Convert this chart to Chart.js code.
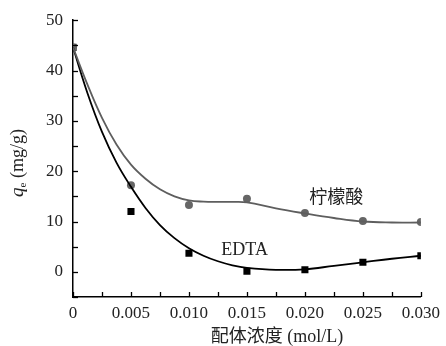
<!DOCTYPE html>
<html>
<head>
<meta charset="utf-8">
<script src="https://cdn.jsdelivr.net/npm/chart.js@4/dist/chart.umd.min.js"></script>
<style>
  html, body { margin: 0; padding: 0; background: #fff; }
  #wrap { width: 446px; height: 346px; }
</style>
</head>
<body>
<div id="wrap"><canvas id="chart"></canvas></div>
<script>
// measured points
const conc = [0, 0.005, 0.010, 0.015, 0.020, 0.025, 0.030];
const citricQ = [44.6, 17.2, 13.3, 14.5, 11.7, 10.1, 9.9];
const edtaQ = [44.6, 12.0, 3.7, 0.1, 0.4, 1.9, 3.2];

// fitted curves
const fitConc = [0, 0.00125, 0.0025, 0.00375, 0.005, 0.00625, 0.0075, 0.00875, 0.010,
                 0.01125, 0.0125, 0.01375, 0.015, 0.0175, 0.020, 0.0225, 0.025, 0.0275, 0.030];
const citricFit = [44.6, 37.2, 30.6, 25.3, 21.3, 18.5, 16.4, 15.0, 14.2,
                   13.95, 13.9, 13.9, 13.8, 12.6, 11.6, 10.7, 10.0, 9.8, 9.8];
const edtaFit = [44.6, 35.5, 27.8, 21.7, 16.9, 12.7, 9.3, 6.7, 4.7,
                 3.2, 2.1, 1.3, 0.8, 0.4, 0.5, 1.2, 1.9, 2.6, 3.2];

const seriesNames = ['柠檬酸', 'EDTA'];
const xTitle = '配体浓度 (mol/L)';

const serif = '"Liberation Serif", "Times New Roman", "Noto Sans CJK SC", serif';
const textColor = '#222';
const grayColor = '#5e5e5e';

const toXY = (xs, ys) => xs.map((x, i) => ({ x: x, y: ys[i] }));

// inward ticks, axis titles and in-plot labels
const extras = {
    id: 'extras',
    afterDraw(chart) {
        const ctx = chart.ctx;
        const { left, bottom } = chart.chartArea;
        const xs = chart.scales.x, ys = chart.scales.y;
        ctx.save();
        ctx.strokeStyle = '#000';
        ctx.lineWidth = 1.3;
        xs.ticks.forEach(t => {
            const px = Math.round(xs.getPixelForValue(t.value)) + 0.5;
            ctx.beginPath(); ctx.moveTo(px, bottom); ctx.lineTo(px, bottom - 5); ctx.stroke();
        });
        ys.ticks.forEach(t => {
            const py = Math.round(ys.getPixelForValue(t.value)) + 0.5;
            ctx.beginPath(); ctx.moveTo(left, py); ctx.lineTo(left + 5, py); ctx.stroke();
        });

        ctx.fillStyle = textColor;
        ctx.textBaseline = 'middle';
        ctx.textAlign = 'center';
        ctx.font = '18px ' + serif;
        ctx.fillText(xTitle, 277, 337);

        // y title: q_e (mg/g)
        ctx.translate(18, 163);
        ctx.rotate(-Math.PI / 2);
        ctx.textAlign = 'left';
        const q = 'q', e = 'e', unit = ' (mg/g)';
        ctx.font = 'italic 19px ' + serif;
        const wq = ctx.measureText(q).width;
        ctx.font = '11px ' + serif;
        const we = ctx.measureText(e).width;
        ctx.font = '18px ' + serif;
        const wu = ctx.measureText(unit).width;
        let x0 = -(wq + we + wu) / 2;
        ctx.font = 'italic 19px ' + serif;
        ctx.fillText(q, x0, 0);
        ctx.font = '11px ' + serif;
        ctx.fillText(e, x0 + wq, 5);
        ctx.font = '18px ' + serif;
        ctx.fillText(unit, x0 + wq + we, 0);
        ctx.restore();

        ctx.save();
        ctx.fillStyle = textColor;
        ctx.textAlign = 'center';
        ctx.textBaseline = 'middle';
        ctx.font = '18px ' + serif;
        ctx.fillText(seriesNames[0], xs.getPixelForValue(0.0227), ys.getPixelForValue(14.7));
        ctx.fillText(seriesNames[1], xs.getPixelForValue(0.0148), ys.getPixelForValue(4.2));
        ctx.restore();
    }
};

new Chart(document.getElementById('chart'), {
    type: 'scatter',
    data: {
        datasets: [
            {
                label: seriesNames[0] + ' fit',
                data: toXY(fitConc, citricFit),
                showLine: true,
                borderColor: grayColor,
                borderWidth: 1.8,
                pointRadius: 0,
                tension: 0.4,
            },
            {
                label: seriesNames[1] + ' fit',
                data: toXY(fitConc, edtaFit),
                showLine: true,
                borderColor: '#000',
                borderWidth: 1.8,
                pointRadius: 0,
                tension: 0.4,
            },
            {
                label: seriesNames[0],
                data: toXY(conc, citricQ),
                pointStyle: 'circle',
                pointRadius: 4,
                backgroundColor: '#666',
                borderColor: '#666',
                borderWidth: 0,
            },
            {
                label: seriesNames[1],
                data: toXY(conc, edtaQ),
                pointStyle: 'rect',
                pointRadius: 5,
                backgroundColor: '#000',
                borderColor: '#000',
                borderWidth: 0,
            },
        ]
    },
    options: {
        responsive: true,
        maintainAspectRatio: false,
        animation: false,
        layout: { padding: { top: 20, right: 22, bottom: 0, left: 0 } },
        plugins: {
            legend: { display: false },
            tooltip: { enabled: false },
        },
        scales: {
            x: {
                type: 'linear',
                min: 0,
                max: 0.03,
                grid: { display: false, drawTicks: false },
                border: { display: true, color: '#000', width: 1.5 },
                ticks: {
                    stepSize: 0.0025,
                    autoSkip: false,
                    maxRotation: 0,
                    padding: 6,
                    color: textColor,
                    font: { family: serif, size: 17 },
                    callback: (v) => {
                        const k = Math.round(v / 0.0025);
                        if (k % 2 !== 0) return '';
                        return k === 0 ? '0' : (k * 0.0025).toFixed(3);
                    }
                },
                afterFit: (s) => { s.height = 49; }
            },
            y: {
                min: -5,
                max: 50,
                grid: { display: false, drawTicks: false },
                border: { display: true, color: '#000', width: 1.5 },
                ticks: {
                    stepSize: 5,
                    autoSkip: false,
                    padding: 10,
                    color: textColor,
                    font: { family: serif, size: 17 },
                    callback: (v) => (v >= 0 && v % 10 === 0) ? String(v) : ''
                },
                afterFit: (s) => { s.width = 73; }
            }
        }
    },
    plugins: [extras]
});
</script>
</body>
</html>
